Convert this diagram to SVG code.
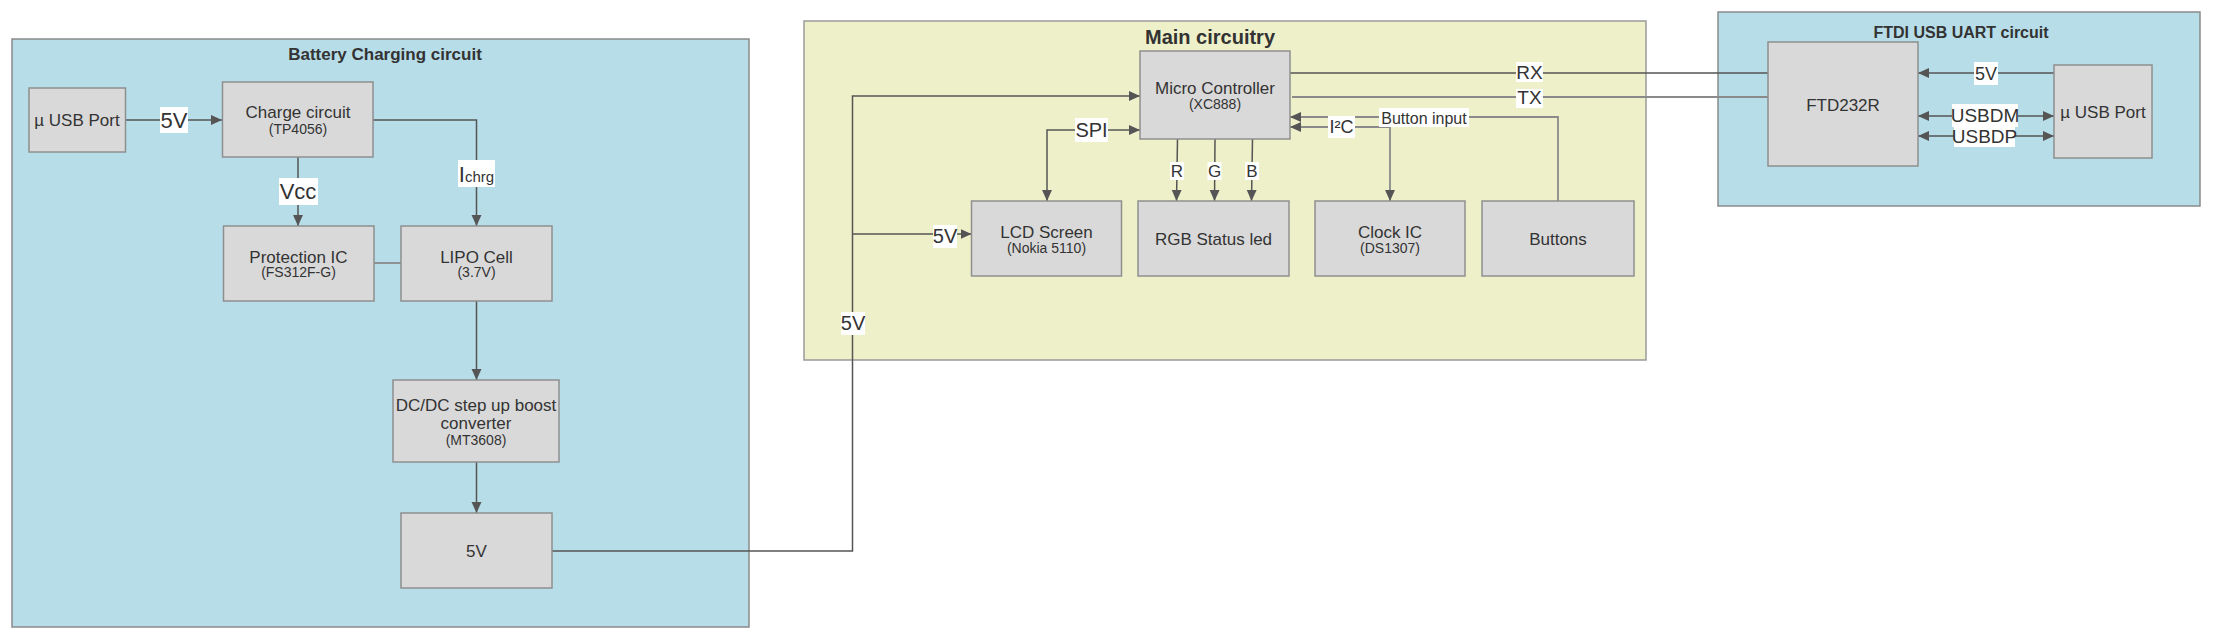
<svg xmlns="http://www.w3.org/2000/svg" width="2213" height="640" viewBox="0 0 2213 640">
<style>
text{font-family:"Liberation Sans",Arial,sans-serif;fill:#333;text-anchor:middle}
.blue{fill:#b7dde8;stroke:#8a8a8a;stroke-width:1.5}
.yel{fill:#eef0c9;stroke:#9a9a9a;stroke-width:1.5}
.box{fill:#d9d9d9;stroke:#8f8f8f;stroke-width:1.5}
.t{font-size:17px}
.s{font-size:14px}
.title{font-weight:bold}
.ln{fill:none;stroke:#555;stroke-width:1.5}
.ln2{fill:none;stroke:#8a8a8a;stroke-width:1.8}
.lb{fill:#fff}
</style>
<defs>
<marker id="a" viewBox="0 0 10 10" refX="10" refY="5" markerWidth="11" markerHeight="11" markerUnits="userSpaceOnUse" orient="auto-start-reverse">
<path d="M0,0.5 L10,5 L0,9.5 z" fill="#555"/>
</marker>
</defs>

<g id="battery-container">
<rect class="blue" x="12" y="39" width="737" height="588"/>
<text class="title" x="385" y="60" font-size="17">Battery Charging circuit</text>
</g>
<g id="main-container">
<rect class="yel" x="804" y="21" width="842" height="339"/>
<text class="title" x="1210" y="44" font-size="20">Main circuitry</text>
</g>
<g id="ftdi-container">
<rect class="blue" x="1718" y="12" width="482" height="194"/>
<text class="title" x="1961" y="38" font-size="16">FTDI USB UART circuit</text>
</g>

<g id="connectors">
<line class="ln" x1="125.5" y1="120" x2="222" y2="120" marker-end="url(#a)"/>
<line class="ln" x1="298" y1="157" x2="298" y2="226" marker-end="url(#a)"/>
<polyline class="ln" points="373,120 476.5,120 476.5,226" marker-end="url(#a)"/>
<line class="ln2" x1="374" y1="263" x2="401" y2="263"/>
<line class="ln" x1="476.5" y1="301" x2="476.5" y2="380" marker-end="url(#a)"/>
<line class="ln" x1="476.5" y1="462" x2="476.5" y2="513" marker-end="url(#a)"/>
<polyline class="ln" points="552,551 852.5,551 852.5,96 1140,96" marker-end="url(#a)"/>
<line class="ln" x1="852.5" y1="234" x2="971.5" y2="234" marker-end="url(#a)"/>
<polyline class="ln" points="1140,130 1047,130 1047,201" marker-start="url(#a)" marker-end="url(#a)"/>
<line class="ln" x1="1177.5" y1="139" x2="1176.5" y2="201" marker-end="url(#a)"/>
<line class="ln" x1="1215" y1="139" x2="1214.5" y2="201" marker-end="url(#a)"/>
<line class="ln" x1="1252.5" y1="139" x2="1251.5" y2="201" marker-end="url(#a)"/>
<polyline class="ln2" points="1558,201 1558,117 1290,117" marker-end="url(#a)"/>
<polyline class="ln2" points="1290,127 1390,127 1390,201" marker-start="url(#a)" marker-end="url(#a)"/>
<line class="ln" x1="1290" y1="73" x2="1768" y2="73"/>
<line class="ln2" x1="1292" y1="97" x2="1768" y2="97"/>
<line class="ln" x1="2054" y1="73" x2="1918" y2="73" marker-end="url(#a)"/>
<line class="ln" x1="1918" y1="116" x2="2054" y2="116" marker-start="url(#a)" marker-end="url(#a)"/>
<line class="ln" x1="1918" y1="136" x2="2054" y2="136" marker-start="url(#a)" marker-end="url(#a)"/>

<rect class="lb" x="160" y="107" width="28" height="26"/>
<text x="174" y="128" font-size="22">5V</text>
<rect class="lb" x="279" y="178" width="39" height="27"/>
<text x="298" y="199" font-size="22">Vcc</text>
<rect class="lb" x="458" y="160" width="37" height="27"/>
<text x="476.5" y="182" font-size="22">I<tspan font-size="15">chrg</tspan></text>
<rect class="lb" x="1516" y="62" width="27" height="20"/>
<text x="1529.5" y="79" font-size="19">RX</text>
<rect class="lb" x="1516" y="89" width="27" height="19"/>
<text x="1529.5" y="104" font-size="19">TX</text>
<rect class="lb" x="1075" y="118" width="33" height="24"/>
<text x="1091.5" y="137" font-size="20">SPI</text>
<rect class="lb" x="1170" y="162" width="14" height="18"/>
<text x="1177" y="177" font-size="17">R</text>
<rect class="lb" x="1207.5" y="162" width="14" height="18"/>
<text x="1214.5" y="177" font-size="17">G</text>
<rect class="lb" x="1245" y="162" width="14" height="18"/>
<text x="1252" y="177" font-size="17">B</text>
<rect class="lb" x="933" y="225" width="24" height="23"/>
<text x="945" y="243" font-size="20">5V</text>
<rect class="lb" x="841" y="312" width="24" height="23"/>
<text x="853" y="330" font-size="20">5V</text>
<rect class="lb" x="1379" y="108" width="90" height="19"/>
<text x="1424" y="123.5" font-size="16">Button input</text>
<rect class="lb" x="1328" y="116" width="27" height="22"/>
<text x="1341.5" y="133" font-size="18">I²C</text>
<rect class="lb" x="1974" y="62" width="24" height="23"/>
<text x="1986" y="80" font-size="18">5V</text>
<rect class="lb" x="1952" y="104" width="66" height="23"/>
<text x="1985" y="122" font-size="19">USBDM</text>
<rect class="lb" x="1954" y="127" width="61" height="20"/>
<text x="1984.5" y="143" font-size="19">USBDP</text>
</g>

<g id="usb-port-left">
<rect class="box" x="29" y="88" width="96.5" height="64"/>
<text class="t" x="77" y="126">µ USB Port</text>
</g>
<g id="charge-circuit">
<rect class="box" x="222.5" y="82" width="150.5" height="75"/>
<text class="t" x="298" y="118">Charge circuit</text>
<text class="s" x="298" y="134">(TP4056)</text>
</g>
<g id="protection-ic">
<rect class="box" x="223.5" y="226" width="150.5" height="75"/>
<text class="t" x="298.5" y="263">Protection IC</text>
<text class="s" x="298.5" y="277">(FS312F-G)</text>
</g>
<g id="lipo-cell">
<rect class="box" x="401" y="226" width="151" height="75"/>
<text class="t" x="476.5" y="263">LIPO Cell</text>
<text class="s" x="476.5" y="277">(3.7V)</text>
</g>
<g id="dcdc">
<rect class="box" x="393" y="380" width="166" height="82"/>
<text class="t" x="476" y="411">DC/DC step up boost</text>
<text class="t" x="476" y="429">converter</text>
<text class="s" x="476" y="445">(MT3608)</text>
</g>
<g id="out-5v">
<rect class="box" x="401" y="513" width="151" height="75"/>
<text class="t" x="476.5" y="557">5V</text>
</g>
<g id="micro-controller">
<rect class="box" x="1140" y="51" width="150" height="88"/>
<text class="t" x="1215" y="94">Micro Controller</text>
<text class="s" x="1215" y="109">(XC888)</text>
</g>
<g id="lcd-screen">
<rect class="box" x="971.5" y="201" width="150" height="75"/>
<text class="t" x="1046.5" y="238">LCD Screen</text>
<text class="s" x="1046.5" y="253">(Nokia 5110)</text>
</g>
<g id="rgb-led">
<rect class="box" x="1138" y="201" width="151" height="75"/>
<text class="t" x="1213.5" y="245">RGB Status led</text>
</g>
<g id="clock-ic">
<rect class="box" x="1315" y="201" width="150" height="75"/>
<text class="t" x="1390" y="238">Clock IC</text>
<text class="s" x="1390" y="253">(DS1307)</text>
</g>
<g id="buttons">
<rect class="box" x="1482" y="201" width="152" height="75"/>
<text class="t" x="1558" y="245">Buttons</text>
</g>
<g id="ftd232r">
<rect class="box" x="1768" y="42" width="150" height="124"/>
<text class="t" x="1843" y="111">FTD232R</text>
</g>
<g id="usb-port-right">
<rect class="box" x="2054" y="65" width="98" height="93"/>
<text class="t" x="2103" y="118">µ USB Port</text>
</g>
</svg>
